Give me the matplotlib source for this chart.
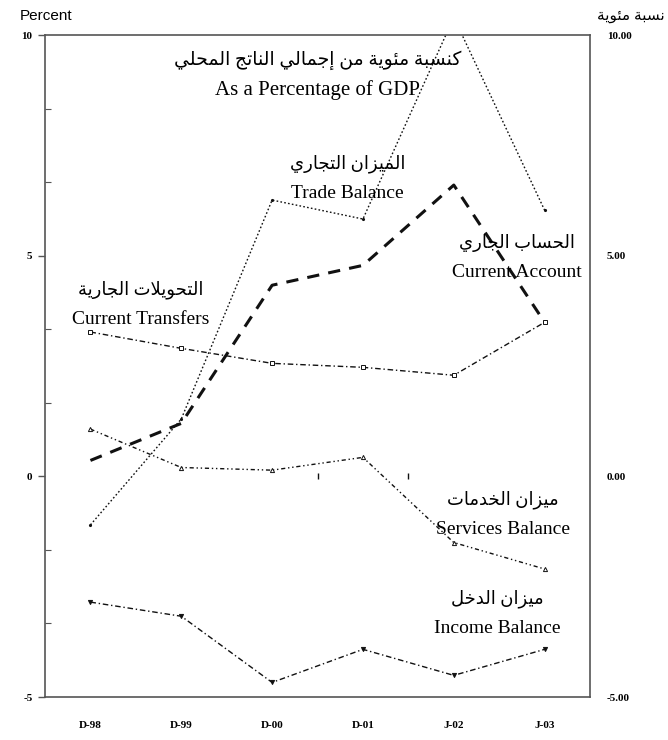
import matplotlib
matplotlib.use("Agg")
import matplotlib.pyplot as plt
import numpy as np

# ---------------- data ----------------
periods = ["D-98", "D-99", "D-00", "D-01", "J-02", "J-03"]
trade_balance = [-1.1, 1.3, 6.26, 5.83, 10.4, 6.03]
current_account = [0.36, 1.2, 4.33, 4.78, 6.6, 3.49]
current_transfers = [3.27, 2.9, 2.56, 2.47, 2.29, 3.49]
services_balance = [1.07, 0.2, 0.14, 0.43, -1.5, -2.1]
income_balance = [-2.85, -3.17, -4.67, -3.92, -4.51, -3.92]
left_ticks = [10, 5, 0, -5]
left_labels = ["10", "5", "0", "-5"]
right_labels = ["10.00", "5.00", "0.00", "-5.00"]

# ------------- minimal Arabic shaping -------------
FORMS = {
    '\u0621': (0xFE80,), '\u0622': (0xFE81, 0xFE82), '\u0623': (0xFE83, 0xFE84),
    '\u0624': (0xFE85, 0xFE86), '\u0625': (0xFE87, 0xFE88),
    '\u0626': (0xFE89, 0xFE8A, 0xFE8B, 0xFE8C), '\u0627': (0xFE8D, 0xFE8E),
    '\u0628': (0xFE8F, 0xFE90, 0xFE91, 0xFE92), '\u0629': (0xFE93, 0xFE94),
    '\u062A': (0xFE95, 0xFE96, 0xFE97, 0xFE98), '\u062B': (0xFE99, 0xFE9A, 0xFE9B, 0xFE9C),
    '\u062C': (0xFE9D, 0xFE9E, 0xFE9F, 0xFEA0), '\u062D': (0xFEA1, 0xFEA2, 0xFEA3, 0xFEA4),
    '\u062E': (0xFEA5, 0xFEA6, 0xFEA7, 0xFEA8), '\u062F': (0xFEA9, 0xFEAA),
    '\u0630': (0xFEAB, 0xFEAC), '\u0631': (0xFEAD, 0xFEAE), '\u0632': (0xFEAF, 0xFEB0),
    '\u0633': (0xFEB1, 0xFEB2, 0xFEB3, 0xFEB4), '\u0634': (0xFEB5, 0xFEB6, 0xFEB7, 0xFEB8),
    '\u0635': (0xFEB9, 0xFEBA, 0xFEBB, 0xFEBC), '\u0636': (0xFEBD, 0xFEBE, 0xFEBF, 0xFEC0),
    '\u0637': (0xFEC1, 0xFEC2, 0xFEC3, 0xFEC4), '\u0638': (0xFEC5, 0xFEC6, 0xFEC7, 0xFEC8),
    '\u0639': (0xFEC9, 0xFECA, 0xFECB, 0xFECC), '\u063A': (0xFECD, 0xFECE, 0xFECF, 0xFED0),
    '\u0641': (0xFED1, 0xFED2, 0xFED3, 0xFED4), '\u0642': (0xFED5, 0xFED6, 0xFED7, 0xFED8),
    '\u0643': (0xFED9, 0xFEDA, 0xFEDB, 0xFEDC), '\u0644': (0xFEDD, 0xFEDE, 0xFEDF, 0xFEE0),
    '\u0645': (0xFEE1, 0xFEE2, 0xFEE3, 0xFEE4), '\u0646': (0xFEE5, 0xFEE6, 0xFEE7, 0xFEE8),
    '\u0647': (0xFEE9, 0xFEEA, 0xFEEB, 0xFEEC), '\u0648': (0xFEED, 0xFEEE),
    '\u0649': (0xFEEF, 0xFEF0), '\u064A': (0xFEF1, 0xFEF2, 0xFEF3, 0xFEF4),
}
LAM_ALEF = {'\u0622': (0xFEF5, 0xFEF6), '\u0623': (0xFEF7, 0xFEF8),
            '\u0625': (0xFEF9, 0xFEFA), '\u0627': (0xFEFB, 0xFEFC)}


def dual(c):
    return c in FORMS and len(FORMS[c]) == 4


def shape(text):
    chars = list(text)
    out = []
    i = 0
    n = len(chars)
    while i < n:
        c = chars[i]
        if c not in FORMS:
            out.append(c)
            i += 1
            continue
        prev = chars[i - 1] if i > 0 else ''
        jp = dual(prev)
        if c == '\u0644' and i + 1 < n and chars[i + 1] in LAM_ALEF:
            f = LAM_ALEF[chars[i + 1]]
            out.append(chr(f[1] if jp else f[0]))
            i += 2
            continue
        nxt = chars[i + 1] if i + 1 < n else ''
        jn = dual(c) and nxt in FORMS
        f = FORMS[c]
        if jp and jn:
            g = f[3]
        elif jp:
            g = f[1] if len(f) > 1 else f[0]
        elif jn:
            g = f[2]
        else:
            g = f[0]
        out.append(chr(g))
        i += 1
    return ''.join(reversed(out))


AR = ['Liberation Serif', 'DejaVu Sans']
SERIF = ['Liberation Serif', 'DejaVu Serif']

# ---------------- figure ----------------
fig = plt.figure(figsize=(6.68, 7.40), dpi=100)
ax = fig.add_axes([0.0674, 0.0581, 0.8159, 0.8946])
x = np.arange(len(periods))
col = '#111111'

ax.plot(x, trade_balance, color=col, lw=1.0, linestyle=(0, (1.2, 1.6)),
        marker='.', markersize=2.5)
ax.plot(x, current_account, color=col, lw=2.2, linestyle=(0, (4, 3)))
ax.plot(x, current_transfers, color=col, lw=1.0, linestyle=(0, (4, 2, 1, 2)),
        marker='s', markersize=3, markerfacecolor='white', markeredgewidth=0.7)
ax.plot(x, services_balance, color=col, lw=1.0, linestyle=(0, (3, 2, 1, 2, 1, 2)),
        marker='^', markersize=3, markerfacecolor='white', markeredgewidth=0.7)
ax.plot(x, income_balance, color=col, lw=1.0, linestyle=(0, (4, 2, 1, 2)),
        marker='v', markersize=3, markeredgewidth=0.7)
# small category ticks visible on the zero line
ax.plot([2.5, 3.5], [0, 0], linestyle='none', marker='|', markersize=5,
        color=col, markeredgewidth=1.0)

ax.set_xlim(-0.5, len(periods) - 0.5)
ax.set_ylim(-5, 10)

for s in ax.spines.values():
    s.set_color('#555555')
    s.set_linewidth(1.2)

ax.set_xticks(x)
ax.set_xticklabels(periods, fontsize=8, fontweight='bold', family=SERIF)
ax.tick_params(axis='x', length=0, pad=17)
ax.set_yticks(left_ticks)
ax.set_yticklabels(left_labels, fontsize=8, fontweight='bold', family=SERIF)
ax.set_yticks(np.arange(-5, 10.01, 5 / 3), minor=True)
ax.tick_params(axis='y', which='major', length=5, width=1, color='#555555',
               direction='out', pad=4, left=True, right=True,
               labelleft=True, labelright=False)
ax.tick_params(axis='y', which='minor', length=4, width=0.8, color='#555555',
               direction='in', left=True, right=True)

ax2 = ax.twinx()
ax2.set_ylim(ax.get_ylim())
ax2.set_yticks(left_ticks)
ax2.set_yticklabels(right_labels, fontsize=8, fontweight='bold', family=SERIF)
ax2.tick_params(axis='y', length=0, pad=12)
for s in ax2.spines.values():
    s.set_visible(False)

# ---------------- texts ----------------
fig.text(0.03, 0.978, "Percent", fontsize=11, family=['Liberation Sans', 'DejaVu Sans'],
         ha='left', va='center')
fig.text(0.995, 0.978, shape("نسبة مئوية"), fontsize=11, family=AR,
         ha='right', va='center')

def label(xp, yp, ar, en, size=14, arsize=13):
    ax.text(xp, yp, shape(ar), transform=ax.transAxes, ha='center', va='center',
            fontsize=arsize, family=AR)
    ax.text(xp, yp - 0.045, en, transform=ax.transAxes, ha='center', va='center',
            fontsize=size, family=SERIF)

label(0.5, 0.962, "كنسبة مئوية من إجمالي الناتج المحلي", "As a Percentage of GDP",
      size=15, arsize=13.5)
label(0.555, 0.805, "الميزان التجاري", "Trade Balance")
label(0.175, 0.615, "التحويلات الجارية", "Current Transfers")
label(0.865, 0.686, "الحساب الجاري", "Current Account")
label(0.84, 0.298, "ميزان الخدمات", "Services Balance")
label(0.83, 0.149, "ميزان الدخل", "Income Balance")

fig.savefig("out.png", dpi=100)
